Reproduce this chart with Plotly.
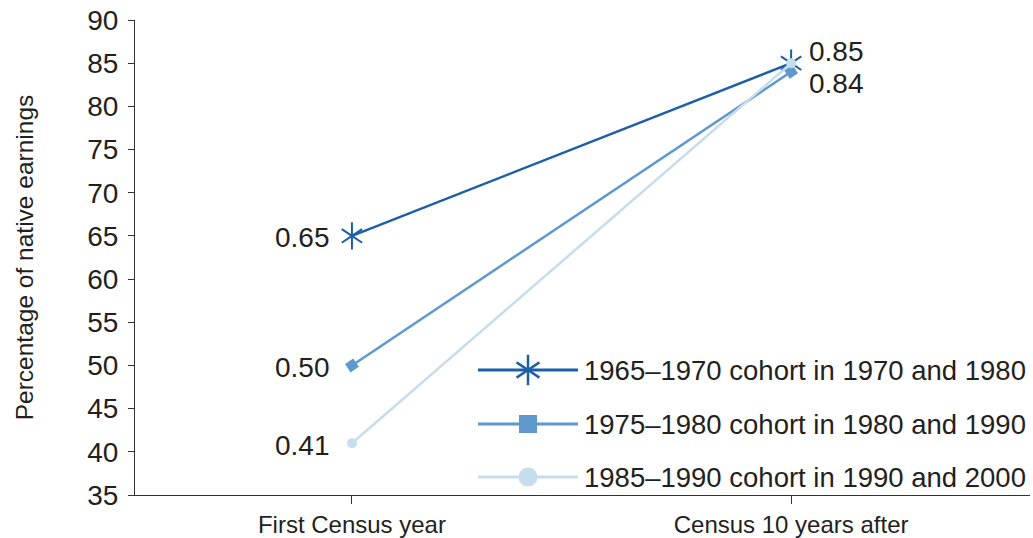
import plotly.graph_objects as go

# Census points compared for each arrival cohort
periods = ["First Census year", "Census 10 years after"]
cohorts = [
    "1965–1970 cohort in 1970 and 1980",
    "1975–1980 cohort in 1980 and 1990",
    "1985–1990 cohort in 1990 and 2000",
]
# Immigrant earnings as a share of native earnings
share_1965 = [0.65, 0.85]
share_1975 = [0.50, 0.84]
share_1985 = [0.41, 0.85]
# Which points carry a value label
labelled_1965 = [True, True]
labelled_1975 = [True, True]
labelled_1985 = [True, False]
y_ticks = list(range(35, 95, 5))

DARK = "#1c5fa9"
MID = "#5f98cc"
LIGHT = "#c6ddee"
TEXT = "#231f20"
FONT = "Liberation Sans, Arial, sans-serif"

xs = list(range(len(periods)))
fig = go.Figure()


def add_series(values, color, symbols, size, angle=0):
    pct = [v * 100 for v in values]
    fig.add_trace(go.Scatter(
        x=xs, y=pct, mode="lines", line=dict(color=color, width=2.5),
        showlegend=False, hoverinfo="skip"))
    for sym in symbols:
        open_sym = sym.endswith("-open")
        fig.add_trace(go.Scatter(
            x=xs, y=pct, mode="markers", showlegend=False, hoverinfo="skip",
            marker=dict(symbol=sym, size=size, color=color, angle=angle,
                        line=dict(color=color, width=2 if open_sym else 0))))


add_series(share_1965, DARK, ["y-up-open", "y-down-open"], 17)
add_series(share_1975, MID, ["square"], 10, angle=-34)
add_series(share_1985, LIGHT, ["circle"], 10)

# Value labels next to the points
label_font = dict(family=FONT, size=28, color=TEXT)
top_right = max(share_1965[1], share_1975[1])
for values, flags in [(share_1965, labelled_1965), (share_1975, labelled_1975),
                      (share_1985, labelled_1985)]:
    for i, (v, show) in enumerate(zip(values, flags)):
        if not show:
            continue
        if i == 0:
            fig.add_annotation(x=xs[i], y=v * 100, text=f"{v:.2f}", showarrow=False,
                               xanchor="right", yanchor="middle", xshift=-20,
                               yshift=-2, font=label_font)
        else:
            # the two right-hand labels are stacked above / below each other
            fig.add_annotation(x=xs[i], y=v * 100, text=f"{v:.2f}", showarrow=False,
                               xanchor="left", yanchor="middle", xshift=16,
                               yshift=12 if v == top_right else -12,
                               font=label_font)

# Legend drawn on an overlay axis measured in page pixels
legend_rows = [370, 424, 477]
legend_x0, legend_x1 = 478, 578
legend_mid = (legend_x0 + legend_x1) / 2
legend_style = [
    (DARK, ["y-up-open", "y-down-open"], 19),
    (MID, ["square"], 18),
    (LIGHT, ["circle"], 19),
]
for name, row, (color, symbols, size) in zip(cohorts, legend_rows, legend_style):
    fig.add_trace(go.Scatter(
        x=[legend_x0, legend_x1], y=[row, row], mode="lines", xaxis="x2", yaxis="y2",
        line=dict(color=color, width=3), showlegend=False, hoverinfo="skip"))
    for sym in symbols:
        open_sym = sym.endswith("-open")
        fig.add_trace(go.Scatter(
            x=[legend_mid], y=[row], mode="markers", xaxis="x2", yaxis="y2",
            showlegend=False, hoverinfo="skip",
            marker=dict(symbol=sym, size=size, color=color,
                        line=dict(color=color, width=2.5 if open_sym else 0))))
    fig.add_annotation(x=legend_x1 + 4, y=row, xref="x2", yref="y2", text=name,
                       showarrow=False, xanchor="left", yanchor="middle",
                       font=dict(family=FONT, size=27.5, color=TEXT))

fig.update_layout(
    width=1033, height=538,
    margin=dict(l=135, r=3, t=20, b=43),
    paper_bgcolor="white", plot_bgcolor="white",
    font=dict(family=FONT, color=TEXT),
    showlegend=False,
    xaxis=dict(
        range=[-0.494, 1.544], tickvals=xs, ticktext=periods, automargin=False,
        showgrid=False, zeroline=False, showline=True, linecolor="#333", linewidth=1,
        ticks="outside", ticklen=8, tickcolor="#333", tickwidth=1,
        ticklabelstandoff=0,
        tickfont=dict(family=FONT, size=24, color=TEXT), fixedrange=True,
    ),
    yaxis=dict(
        range=[35, 90], tickvals=y_ticks, automargin=False,
        showgrid=False, zeroline=False, showline=True, linecolor="#333", linewidth=1,
        ticks="outside", ticklen=6, tickcolor="#333", tickwidth=1,
        ticklabelstandoff=4,
        tickfont=dict(family=FONT, size=28, color=TEXT),
        title=dict(text="Percentage of native earnings", standoff=46,
                   font=dict(family=FONT, size=24.5, color=TEXT)),
        fixedrange=True,
    ),
    xaxis2=dict(range=[135, 1030], overlaying="x", visible=False, fixedrange=True),
    yaxis2=dict(range=[495, 20], overlaying="y", visible=False, fixedrange=True),
)

fig.write_html("out.html")
